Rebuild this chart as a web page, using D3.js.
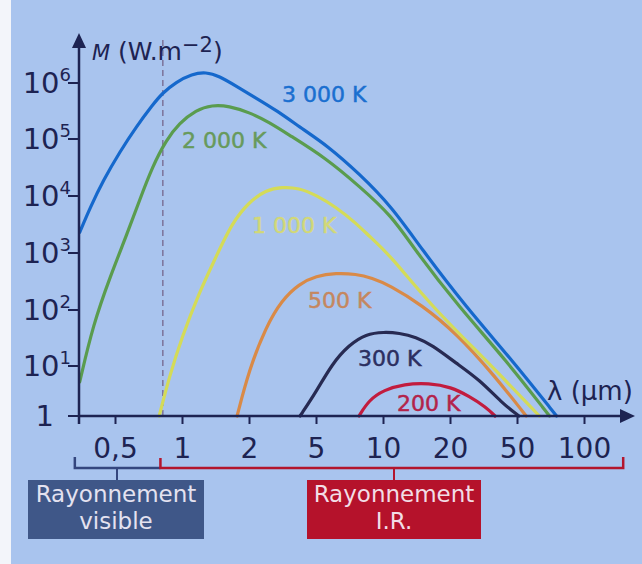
<!DOCTYPE html>
<html><head><meta charset="utf-8">
<script src="https://cdn.jsdelivr.net/npm/d3@7"></script>
<style>html,body{margin:0;padding:0;background:#a9c4ee;} svg{display:block;}</style>
</head><body>
<svg id="c" width="642" height="564"></svg>
<script>
// ---------- data ----------
const xTicks = [0.5, 1, 2, 5, 10, 20, 50, 100];
const xTickLabels = ["0,5", "1", "2", "5", "10", "20", "50", "100"];
const yTicks = [1, 10, 100, 1e3, 1e4, 1e5, 1e6];
const yTickExponents = ["", "1", "2", "3", "4", "5", "6"];
const seriesNames = ["3 000 K", "2 000 K", "1 000 K", "500 K", "300 K", "200 K"];
const m3000 = [[0.347,2300],[0.387,6300],[0.442,18500],[0.526,60000],[0.626,170000],[0.737,405000],[0.816,660000],[0.94,1040000],[1.109,1450000],[1.282,1570000],[1.467,1330000],[1.749,880000],[2.2,540000],[2.89,330000],[4.3,140000],[5.55,79000],[7.8,25000],[10.98,6400],[14.8,1220],[24.9,113],[46.7,12.8],[75.3,1]];
const m2000 = [[0.347,4.8],[0.399,55],[0.475,380],[0.565,2100],[0.645,8500],[0.737,33000],[0.85,96000],[0.97,190000],[1.156,330000],[1.364,405000],[1.626,390000],[2.0,300000],[2.63,200000],[3.46,118000],[5.55,46000],[7.8,15000],[10.98,4460],[13.9,1130],[22.6,113],[43,12.8],[70,1]];
const m1000 = [[0.79,1],[0.876,6],[1.0,33],[1.192,199],[1.421,851],[1.677,3360],[2.0,7850],[2.52,12700],[3.14,14400],[3.96,13800],[5,10400],[6.15,6400],[7.56,3360],[8.84,1830],[10.64,960],[16.6,113],[32.7,12.8],[63,1]];
const m500 = [[1.768,1],[2.0,8.3],[2.52,50],[3.14,150],[3.96,286],[5,395],[6.15,446],[7.56,428],[8.93,364],[10.64,275],[14.97,122],[21.7,38.8],[36.5,6.6],[55,1]];
const m300 = [[4.02,1],[5,3.0],[5.9,10.9],[7.03,23.7],[8.39,37.3],[10.1,40.5],[11.8,38.8],[14.07,33],[16.6,23.7],[21.7,11.3],[30.1,5.25],[40.7,1.82],[51,1]];
const m200 = [[7.8,1],[8.65,2.09],[10.1,3.31],[12.43,4.37],[16.1,4.57],[20.3,3.8],[25.9,2.5],[32.7,1.51],[37,1]];
const visibleLimit = 0.82;

// ---------- layout / style ----------
const W = 642, H = 564;
const axisColor = "#1d2352";
const FONT = "DejaVu Sans";
const svg = d3.select("#c");
svg.append("rect").attr("width", W).attr("height", H).attr("fill", "#a9c4ee");
svg.append("rect").attr("width", 11).attr("height", H).attr("fill", "#f3f5fa");

const x = d3.scaleLog().domain(xTicks).range(xTicks.map((d, i) => 115 + 67 * i));
const y = d3.scaleLog().domain(yTicks).range([416, 366, 310, 253, 196, 139, 83]);

// dashed visible limit
svg.append("line").attr("x1", x(visibleLimit)).attr("x2", x(visibleLimit))
  .attr("y1", 40).attr("y2", 416).attr("stroke", "#7b7399").attr("stroke-width", 1.5)
  .attr("stroke-dasharray", "6,4");

// curves
const series = [
  {name: seriesNames[5], data: m200, color: "#c21c3e", label: "#b3234a", lx: 397, ly: 411},
  {name: seriesNames[4], data: m300, color: "#272a52", label: "#2c2f60", lx: 358, ly: 366},
  {name: seriesNames[3], data: m500, color: "#d98a47", label: "#c5875f", lx: 308, ly: 308},
  {name: seriesNames[2], data: m1000, color: "#d4db58", label: "#d2d878", lx: 252, ly: 233},
  {name: seriesNames[1], data: m2000, color: "#5a9c4e", label: "#679a5c", lx: 182, ly: 148},
  {name: seriesNames[0], data: m3000, color: "#1568cc", label: "#1a6fd0", lx: 282, ly: 102}
];
const line = d3.line().x(d => x(d[0])).y(d => y(d[1])).curve(d3.curveBasis);
series.forEach(s => {
  svg.append("path").attr("d", line(s.data)).attr("fill", "none")
    .attr("stroke", s.color).attr("stroke-width", 3.2).attr("stroke-linecap", "round");
});
series.forEach(s => {
  svg.append("text").attr("x", s.lx).attr("y", s.ly).text(s.name)
    .attr("font-family", FONT).attr("font-size", 22).attr("fill", s.label)
    .attr("stroke", s.label).attr("stroke-width", 0.5);
});

// axes lines + arrows
svg.append("line").attr("x1", 79).attr("x2", 626).attr("y1", 416).attr("y2", 416)
  .attr("stroke", axisColor).attr("stroke-width", 2.5);
svg.append("path").attr("d", "M635,416 L620,409 L620,423 Z").attr("fill", axisColor);
svg.append("line").attr("x1", 79).attr("x2", 79).attr("y1", 424).attr("y2", 44)
  .attr("stroke", axisColor).attr("stroke-width", 2.5);
svg.append("path").attr("d", "M79,33 L72,48 L86,48 Z").attr("fill", axisColor);

// x ticks
const gx = svg.append("g").attr("transform", "translate(0,416)")
  .call(d3.axisBottom(x).tickValues(xTicks).tickFormat((d, i) => xTickLabels[i]).tickSize(8).tickPadding(14));
gx.select(".domain").remove();
gx.selectAll(".tick line").attr("stroke", axisColor).attr("stroke-width", 2);
gx.selectAll(".tick text").attr("font-family", FONT).attr("font-size", 28).attr("fill", axisColor);

// y ticks
yTicks.forEach((v, i) => {
  svg.append("line").attr("x1", 68).attr("x2", 79).attr("y1", y(v)).attr("y2", y(v))
    .attr("stroke", axisColor).attr("stroke-width", 2);
  const t = svg.append("text").attr("text-anchor", "end").attr("y", y(v) + 10)
    .attr("font-family", FONT).attr("fill", axisColor);
  if (yTickExponents[i] === "") {
    t.attr("x", 54).attr("font-size", 29).text("1");
  } else {
    t.attr("x", 71);
    t.append("tspan").attr("font-size", 29).text("10");
    t.append("tspan").attr("font-size", 18).attr("dy", -12).text(yTickExponents[i]);
  }
});

// axis titles
const yt = svg.append("text").attr("x", 92).attr("y", 60).attr("font-family", FONT).attr("fill", axisColor);
yt.append("tspan").attr("font-size", 21).attr("font-style", "italic").text("M");
yt.append("tspan").attr("font-size", 25).text(" (W.m");
yt.append("tspan").attr("font-size", 21).attr("dy", -8).text("−2");
yt.append("tspan").attr("font-size", 25).attr("dy", 8).text(")");
svg.append("text").attr("x", 547).attr("y", 400).attr("font-family", FONT)
  .attr("font-size", 26).attr("fill", axisColor).text("λ (µm)");

// brackets
const blue = "#34467e", red = "#b3152d";
svg.append("path").attr("d", `M${x(0.33)},457 V468 H${x(0.8)}`).attr("fill", "none")
  .attr("stroke", blue).attr("stroke-width", 2.5);
svg.append("line").attr("x1", 117).attr("x2", 117).attr("y1", 468).attr("y2", 480)
  .attr("stroke", blue).attr("stroke-width", 2);
svg.append("path").attr("d", `M${x(0.8)},458 V468 H${x(150)} V457`).attr("fill", "none")
  .attr("stroke", red).attr("stroke-width", 2.5);
svg.append("line").attr("x1", 394).attr("x2", 394).attr("y1", 468).attr("y2", 480)
  .attr("stroke", red).attr("stroke-width", 2);

// boxes
const boxes = [
  {cx: 116, x0: 28, w: 176, fill: "#3f5788", tc: "#e4e2f0", lines: ["Rayonnement", "visible"]},
  {cx: 394, x0: 307, w: 174, fill: "#b5122b", tc: "#f2dde6", lines: ["Rayonnement", "I.R."]}
];
boxes.forEach(b => {
  svg.append("rect").attr("x", b.x0).attr("y", 480).attr("width", b.w).attr("height", 59).attr("fill", b.fill);
  b.lines.forEach((l, j) => {
    svg.append("text").attr("x", b.cx).attr("y", 502 + j * 27).attr("text-anchor", "middle")
      .attr("font-family", FONT).attr("font-size", 23).attr("fill", b.tc).text(l);
  });
});
</script>
</body></html>
